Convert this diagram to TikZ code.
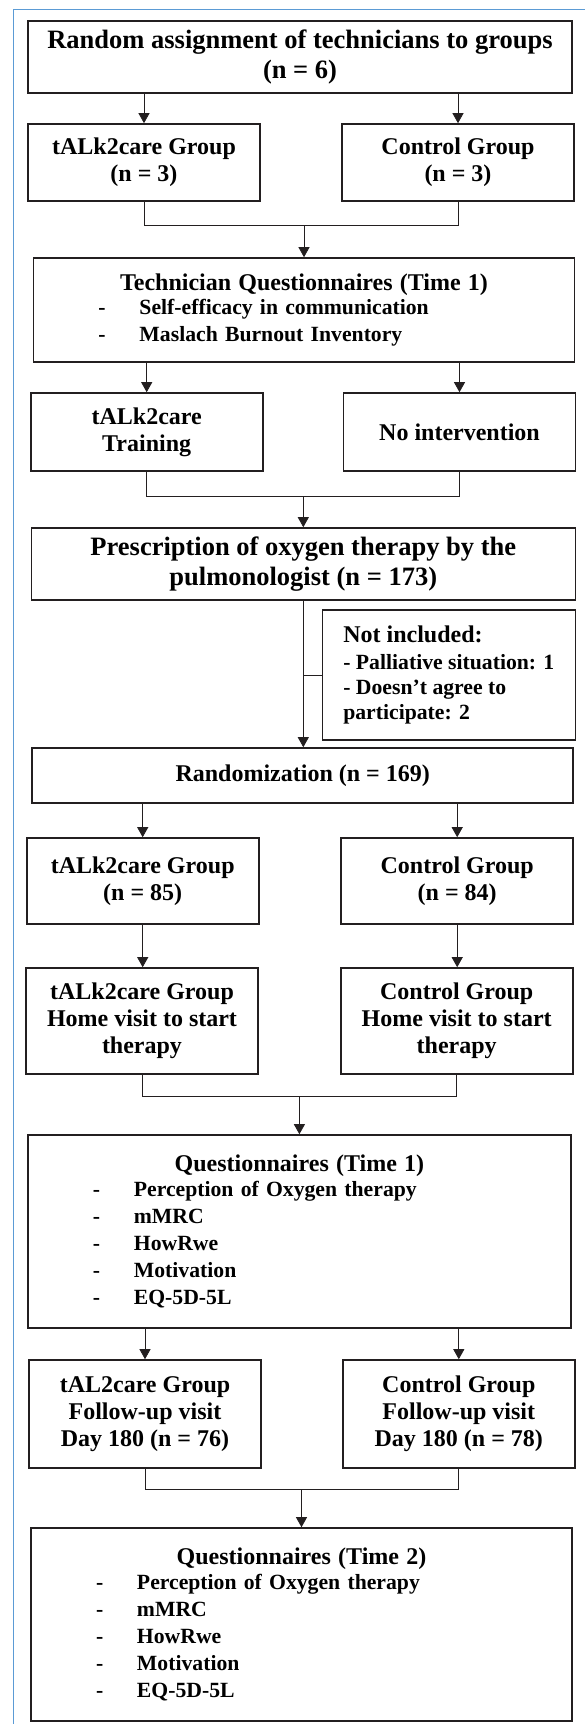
\documentclass[tikz,border=0pt]{standalone}
\usepackage{fontspec}
\setmainfont{Liberation Serif}
\usepackage{tikz}
\usetikzlibrary{arrows.meta}
\definecolor{inkgray}{RGB}{35,31,32}
\definecolor{frameblue}{RGB}{91,155,213}
\newcommand{\flowbig}{\fontsize{26.5}{30}\selectfont}
\newcommand{\flowmid}{\fontsize{24}{27}\selectfont}
\newcommand{\flowsmall}{\fontsize{21.7}{27}\selectfont}
\newcommand{\qtitle}[1]{\makebox[\linewidth]{\flowmid #1}}
\newcommand{\qitem}[1]{\hspace*{65pt}\makebox[41pt][l]{-}#1}

\begin{document}
\begin{tikzpicture}[x=1pt, y=-1pt,
  box/.style={rectangle, draw=inkgray, line width=1.6pt, align=center, inner sep=2pt, minimum width=232pt, font=\bfseries\flowmid},
  listbox/.style={box, inner sep=0pt, align=left, font=\bfseries\flowsmall},
  link/.style={draw=inkgray, line width=0.8pt},
  arrow/.style={link, -{Triangle[width=11pt,length=10pt]}}
]
\useasboundingbox (0,0) rectangle (585,1724);
\draw[frameblue, line width=1.5pt] (13.7,1724) -- (13.7,9.5) -- (585,9.5);

\node[box, minimum width=544pt, minimum height=72pt, font=\bfseries\flowbig] (assign) at (300,57) {Random assignment of technicians to groups\\(n = 6)};
\node[box, minimum height=77pt] (techtalk) at (144,162.5) {tALk2care Group\\(n = 3)};
\node[box, minimum height=77pt] (techctrl) at (458,162.5) {Control Group\\(n = 3)};
\node[listbox, text width=541pt, minimum height=104pt] (techq) at (304,310) {\qtitle{Technician Questionnaires (Time 1)}\\[-3pt]
  \qitem{Self-efficacy in communication}\\ \qitem{Maslach Burnout Inventory}};
\node[box, minimum height=78pt] (training) at (146.7,432) {tALk2care\\Training};
\node[box, minimum height=78pt] (nointerv) at (459.5,432) {No intervention};
\node[box, minimum width=544pt, minimum height=72pt, font=\bfseries\flowbig] (prescr) at (303.3,564) {Prescription of oxygen therapy by the\\pulmonologist (n = 173)};
\node[box, align=left, minimum width=253pt, minimum height=130pt, font=\bfseries\fontsize{21.7}{25}\selectfont] (excluded) at (448.8,675) {{\flowmid Not included:}\\[2pt]
  - Palliative situation: 1\\ - Doesn’t agree to\\ participate: 2};
\node[box, minimum width=541pt, minimum height=55pt] (randomize) at (302.7,775.5) {Randomization (n = 169)};
\node[box, minimum height=86pt] (pattalk) at (142.7,881) {tALk2care Group\\(n = 85)};
\node[box, minimum height=86pt] (patctrl) at (457.2,881) {Control Group\\(n = 84)};
\node[box, minimum height=106pt] (hometalk) at (142,1021) {tALk2care Group\\Home visit to start\\therapy};
\node[box, minimum height=106pt] (homectrl) at (456.7,1021) {Control Group\\Home visit to start\\therapy};
\node[listbox, text width=543pt, minimum height=193pt] (questa) at (299.4,1231.5) {\qtitle{Questionnaires (Time 1)}\\[-2pt]
  \qitem{Perception of Oxygen therapy}\\ \qitem{mMRC}\\ \qitem{HowRwe}\\ \qitem{Motivation}\\ \qitem{EQ-5D-5L}};
\node[box, minimum height=108pt] (followtalk) at (145,1414) {tAL2care Group\\Follow-up visit\\Day 180 (n = 76)};
\node[box, minimum height=108pt] (followctrl) at (458.8,1414) {Control Group\\Follow-up visit\\Day 180 (n = 78)};
\node[listbox, text width=541pt, minimum height=193pt] (questb) at (301.5,1624.5) {\qtitle{Questionnaires (Time 2)}\\[-2pt]
  \qitem{Perception of Oxygen therapy}\\ \qitem{mMRC}\\ \qitem{HowRwe}\\ \qitem{Motivation}\\ \qitem{EQ-5D-5L}};

\draw[arrow] (assign.south -| techtalk.north) -- (techtalk.north);
\draw[arrow] (assign.south -| techctrl.north) -- (techctrl.north);
\draw[link] (techtalk.south) -- ++(0,24) coordinate (join1) -| (techctrl.south);
\draw[arrow] (join1 -| techq.north) -- (techq.north);
\draw[arrow] (techq.south -| training.north) -- (training.north);
\draw[arrow] (techq.south -| nointerv.north) -- (nointerv.north);
\draw[link] (training.south) -- ++(0,25) coordinate (join2) -| (nointerv.south);
\draw[arrow] (join2 -| prescr.north) -- (prescr.north);
\draw[arrow] (prescr.south) -- (prescr.south |- randomize.north);
\draw[link] (prescr.south |- excluded.west) -- (excluded.west);
\draw[arrow] (randomize.south -| pattalk.north) -- (pattalk.north);
\draw[arrow] (randomize.south -| patctrl.north) -- (patctrl.north);
\draw[arrow] (pattalk.south) -- (pattalk.south |- hometalk.north);
\draw[arrow] (patctrl.south) -- (patctrl.south |- homectrl.north);
\draw[link] (hometalk.south) -- ++(0,22) coordinate (join3) -| (homectrl.south);
\draw[arrow] (join3 -| questa.north) -- (questa.north);
\draw[arrow] (questa.south -| followtalk.north) -- (followtalk.north);
\draw[arrow] (questa.south -| followctrl.north) -- (followctrl.north);
\draw[link] (followtalk.south) -- ++(0,21) coordinate (join4) -| (followctrl.south);
\draw[arrow] (join4 -| questb.north) -- (questb.north);
\end{tikzpicture}
\end{document}
